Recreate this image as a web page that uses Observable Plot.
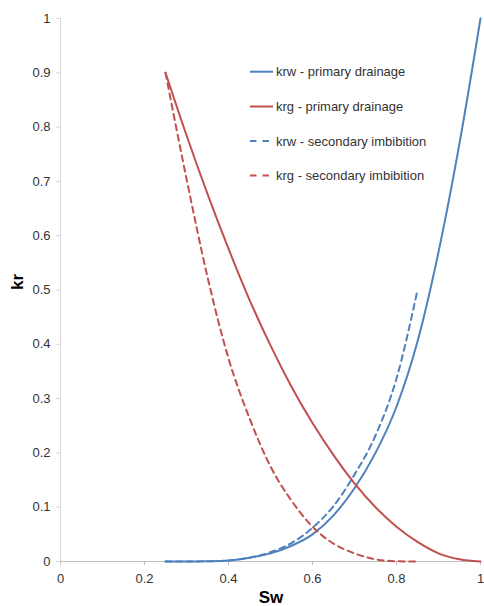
<!DOCTYPE html>
<html>
<head>
<meta charset="utf-8">
<script src="https://cdn.jsdelivr.net/npm/d3@7"></script>
<script src="https://cdn.jsdelivr.net/npm/@observablehq/plot@0.6"></script>
<style>
  html, body { margin: 0; padding: 0; background: #fff; }
  #wrap { position: relative; width: 484px; height: 606px; font-family: "Liberation Sans", Arial, sans-serif; }
  #legend { position: absolute; left: 0; top: 0; pointer-events: none; }
</style>
</head>
<body>
<div id="wrap"></div>
<script>
// Water saturation values (x)
const swPrimary = [0.25, 0.3, 0.35, 0.4, 0.45, 0.5, 0.55, 0.6, 0.65, 0.7, 0.75, 0.8, 0.85, 0.9, 0.95, 1.0];
const krwPrimary = [0, 0, 0.0005, 0.002, 0.007, 0.015, 0.029, 0.05, 0.085, 0.135, 0.2, 0.285, 0.405, 0.57, 0.77, 1.0];
const krgPrimary = [0.9, 0.785, 0.677, 0.576, 0.482, 0.398, 0.322, 0.255, 0.196, 0.144, 0.1, 0.064, 0.036, 0.015, 0.004, 0];

const swSecondary = [0.25, 0.3, 0.35, 0.4, 0.45, 0.5, 0.55, 0.6, 0.65, 0.7, 0.75, 0.8, 0.85];
const krwSecondary = [0, 0, 0.0005, 0.002, 0.007, 0.017, 0.034, 0.062, 0.102, 0.16, 0.232, 0.337, 0.5];
const krgSecondary = [0.9, 0.705, 0.524, 0.374, 0.264, 0.175, 0.112, 0.064, 0.033, 0.015, 0.004, 0.0005, 0];

const xTicks = [0, 0.2, 0.4, 0.6, 0.8, 1];
const yTicks = [0, 0.1, 0.2, 0.3, 0.4, 0.5, 0.6, 0.7, 0.8, 0.9, 1];

const seriesNames = ["krw - primary drainage", "krg - primary drainage", "krw - secondary imbibition", "krg - secondary imbibition"];
const seriesColors = ["#4F81BD", "#C0504D", "#4F81BD", "#C0504D"];
const seriesDashed = [false, false, true, true];

const rows = [];
swPrimary.forEach((s, i) => rows.push({sw: s, kr: krwPrimary[i], series: seriesNames[0]}));
swPrimary.forEach((s, i) => rows.push({sw: s, kr: krgPrimary[i], series: seriesNames[1]}));
swSecondary.forEach((s, i) => rows.push({sw: s, kr: krwSecondary[i], series: seriesNames[2]}));
swSecondary.forEach((s, i) => rows.push({sw: s, kr: krgSecondary[i], series: seriesNames[3]}));

const fmt = d => d === 0 ? "0" : d === 1 ? "1" : String(d);
const textColor = "#333333";
const axisColor = "#BFBFBF";
const dash = "6,4.5";

const marks = [
  Plot.ruleX([0], {y1: 0, y2: 1, stroke: "#D9D9D9", strokeWidth: 1}),
  Plot.ruleY([0], {stroke: axisColor, strokeWidth: 1}),
  Plot.axisY({ticks: yTicks, tickSize: 4, tickPadding: 6, tickFormat: fmt, stroke: "#D9D9D9", fill: textColor, fontSize: 13, label: null}),
  Plot.axisX({ticks: xTicks, tickSize: 4, tickPadding: 8, tickFormat: fmt, stroke: axisColor, fill: textColor, fontSize: 13, label: null})
];
seriesNames.forEach((name, i) => {
  marks.push(Plot.line(rows.filter(r => r.series === name), {
    x: "sw", y: "kr", stroke: seriesColors[i], strokeWidth: 2,
    strokeDasharray: seriesDashed[i] ? dash : null, curve: "monotone-x"
  }));
});
marks.push(Plot.text(["Sw"], {frameAnchor: "bottom", dy: 36, dx: 0.5, fontSize: 17, fontWeight: "bold", fill: "#000", lineAnchor: "middle"}));
marks.push(Plot.text(["kr"], {frameAnchor: "left", dx: -43, rotate: -90, fontSize: 17, fontWeight: "bold", fill: "#000", lineAnchor: "middle"}));

const chart = Plot.plot({
  width: 484,
  height: 606,
  marginLeft: 60,
  marginRight: 4,
  marginTop: 18,
  marginBottom: 45,
  style: {fontFamily: "'Liberation Sans', Arial, sans-serif", background: "#fff"},
  x: {domain: [0, 1]},
  y: {domain: [0, 1]},
  marks
});

const wrap = document.getElementById("wrap");
wrap.appendChild(chart);

// Legend overlay
const ns = "http://www.w3.org/2000/svg";
const leg = document.createElementNS(ns, "svg");
leg.setAttribute("id", "legend");
leg.setAttribute("width", 484);
leg.setAttribute("height", 606);
const rowY = [71.7, 106.5, 141, 175.5];
seriesNames.forEach((name, i) => {
  const ln = document.createElementNS(ns, "line");
  ln.setAttribute("x1", 250); ln.setAttribute("x2", 273);
  ln.setAttribute("y1", rowY[i]); ln.setAttribute("y2", rowY[i]);
  ln.setAttribute("stroke", seriesColors[i]);
  ln.setAttribute("stroke-width", 2);
  if (seriesDashed[i]) ln.setAttribute("stroke-dasharray", "6.5,6");
  leg.appendChild(ln);
  const t = document.createElementNS(ns, "text");
  t.setAttribute("x", 276);
  t.setAttribute("y", rowY[i]);
  t.setAttribute("dy", "0.35em");
  t.setAttribute("font-size", 13);
  t.setAttribute("font-family", "'Liberation Sans', Arial, sans-serif");
  t.setAttribute("fill", textColor);
  t.textContent = name;
  leg.appendChild(t);
});
wrap.appendChild(leg);
</script>
</body>
</html>
